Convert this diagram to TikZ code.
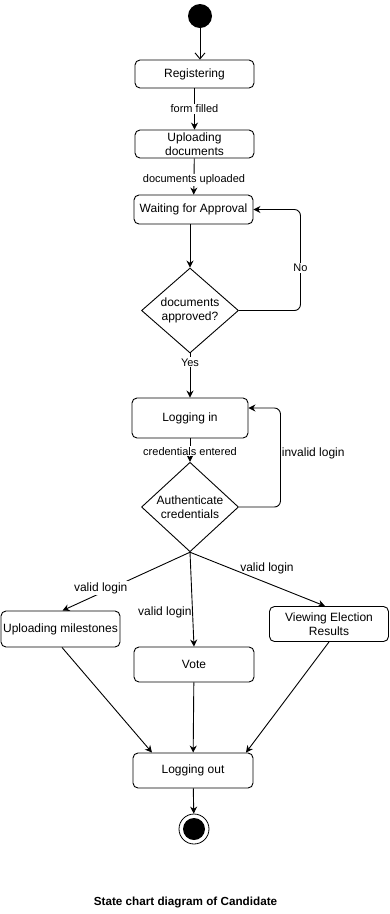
\documentclass[tikz,border=0pt]{standalone}
\usepackage{fontspec}
\setmainfont{Liberation Sans}
\usetikzlibrary{arrows.meta,shapes.geometric}
\begin{document}
\begin{tikzpicture}[x=1pt,y=-1pt,line width=0.9pt,
	state/.style={draw,rounded corners=5pt,align=center,inner sep=0pt,minimum width=119pt,minimum height=28pt,font=\fontsize{12}{14}\selectfont},
	choice/.style={draw,diamond,align=center,inner sep=0pt,minimum width=97pt,minimum height=85pt,font=\fontsize{12}{14}\selectfont},
	lbl/.style={fill=white,inner sep=1pt,font=\fontsize{11}{13}\selectfont},
	vlbl/.style={inner sep=1pt,font=\fontsize{12}{14}\selectfont},
	go/.style={-{Stealth[length=7pt,width=7pt]}}]
	\useasboundingbox (0,0) rectangle (390,914);
	\node[circle,fill=black,minimum size=24pt,inner sep=0pt] (start) at (200,16) {};
	\node[state] (reg) at (194.5,74) {Registering};
	\node[state] (upd) at (194.5,144) {Uploading\\documents};
	\node[state,minimum height=29pt] (wait) at (193.5,209.5) {Waiting for Approval};
	\node[choice] (approved) at (190,310.5) {documents\\approved?};
	\node[state,minimum width=116pt,minimum height=40pt] (login) at (190,418) {Logging in};
	\node[choice,minimum height=84pt] (auth) at (190,507) {Authenticate\\credentials};
	\node[state,minimum height=36pt] (miles) at (60.5,629) {Uploading milestones};
	\node[state,minimum width=120pt,minimum height=35pt] (vote) at (194,664.5) {Vote};
	\node[state,minimum height=35pt] (view) at (329,624) {Viewing Election\\Results};
	\node[state,minimum width=120pt,minimum height=35pt] (logout) at (193,770.5) {Logging out};
	\node[circle,draw,line width=0.8pt,minimum size=30pt,inner sep=0pt] (final) at (194,829) {};
	\fill (final) circle (11pt);
	\node[font=\fontsize{11.7}{13}\selectfont\bfseries] (title) at (185.5,902) {State chart diagram of Candidate};

	\draw[-{Straight Barb[length=6pt,width=10pt]}] (start) -- (start |- reg.north);
	\draw[go] (reg) -- node[lbl]{form filled} (upd);
	\draw[go] (upd) -- node[lbl,pos=0.6]{documents uploaded} (wait);
	\draw[go] (approved.north |- wait.south) -- (approved.north);
	\draw[go,rounded corners=6pt] (approved.east) -| node[lbl,pos=0.71]{No} ([xshift=47pt]wait.east) -- (wait.east);
	\draw[go] (approved) -- node[lbl,pos=0.2]{Yes} (login);
	\draw[go] (login) -- node[lbl,pos=0.55]{credentials entered} (auth);
	\draw[go,rounded corners=6pt] (auth.east) -| node[vlbl,pos=0.77,right]{invalid login} ([shift={(32pt,10pt)}]login.east) -- ([yshift=10pt]login.east);
	% three ways out of a valid login
	\draw[go] (auth.south) -- node[vlbl,fill=white,pos=0.7,yshift=5pt]{valid login} ([xshift=2pt]miles.north);
	\draw[go] (auth.south) -- node[vlbl,pos=0.64,anchor=east,inner sep=0.5pt]{valid login} (vote.north);
	\draw[go] (auth.south) -- node[vlbl,pos=0.57,anchor=south,yshift=7pt]{valid login} ([xshift=-4pt]view.north);
	\draw[go] ([xshift=1.5pt]miles.south) -- ([xshift=-41pt]logout.north);
	\draw[go] (vote) -- (logout);
	\draw[go] (view.south) -- ([xshift=53pt]logout.north);
	\draw[go] (logout) -- (final);
\end{tikzpicture}
\end{document}
